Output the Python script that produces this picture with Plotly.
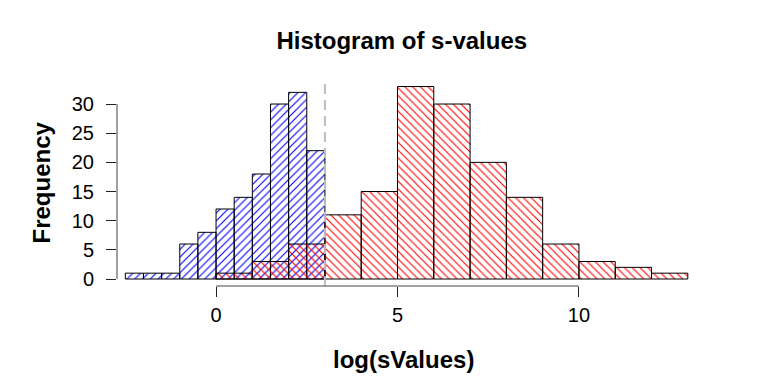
import plotly.graph_objects as go
import numpy as np

# ---- data ----
blue_edges = [-2.5, -2.0, -1.5, -1.0, -0.5, 0.0, 0.5, 1.0, 1.5, 2.0, 2.5, 3.0]
blue_counts = [1, 1, 1, 6, 8, 12, 14, 18, 30, 32, 22]

red_edges = [0, 1, 2, 3, 4, 5, 6, 7, 8, 9, 10, 11, 12, 13]
red_counts = [1, 3, 6, 11, 15, 33, 30, 20, 14, 6, 3, 2, 1]

threshold = 3
x_ticks = [0, 5, 10]
y_ticks = [0, 5, 10, 15, 20, 25, 30]

title_text = "Histogram of s-values"
x_label = "log(sValues)"
y_label = "Frequency"

x_range = [-2.729, 13.06]
y_range = [-1.2, 34.29]


def centers_widths(edges):
    e = np.array(edges, dtype=float)
    return (e[:-1] + e[1:]) / 2, np.diff(e)


def frac(v, rng):
    return (v - rng[0]) / (rng[1] - rng[0])


bx, bw = centers_widths(blue_edges)
rx, rw = centers_widths(red_edges)

fig = go.Figure()
fig.add_trace(go.Bar(
    x=bx, y=blue_counts, width=bw, name="low",
    marker=dict(color="rgba(0,0,0,0)", opacity=1, line=dict(color="black", width=1),
                pattern=dict(shape="/", fgcolor="#0000FF", bgcolor="rgba(0,0,0,0)",
                             fgopacity=1, size=5.5, solidity=0.2)),
    cliponaxis=False, showlegend=False, hoverinfo="skip",
))
fig.add_trace(go.Bar(
    x=rx, y=red_counts, width=rw, name="high",
    marker=dict(color="rgba(0,0,0,0)", opacity=1, line=dict(color="black", width=1),
                pattern=dict(shape="\\", fgcolor="#FF0000", bgcolor="rgba(0,0,0,0)",
                             fgopacity=1, size=5.5, solidity=0.2)),
    cliponaxis=False, showlegend=False, hoverinfo="skip",
))

# threshold line
fig.add_shape(type="line", xref="x", yref="paper", x0=threshold, x1=threshold,
              y0=0, y1=1, line=dict(color="#BEBEBE", width=2, dash="10px,6px"),
              layer="above")
# R-style axis lines spanning first to last tick (paper coords so they are not clipped)
fig.add_shape(type="line", xref="paper", yref="paper",
              x0=frac(x_ticks[0], x_range), x1=frac(x_ticks[-1], x_range),
              y0=0, y1=0, line=dict(color="#444444", width=1))
fig.add_shape(type="line", xref="paper", yref="paper", x0=0, x1=0,
              y0=frac(y_ticks[0], y_range), y1=frac(y_ticks[-1], y_range),
              line=dict(color="#444444", width=1))

fig.add_annotation(text="<b>" + x_label + "</b>", xref="paper", yref="paper",
                   x=0.5, y=0, yshift=-73, showarrow=False, yanchor="middle",
                   font=dict(size=24, color="black", family="Liberation Sans, Arial"))
fig.add_annotation(text="<b>" + y_label + "</b>", xref="paper", yref="paper",
                   x=0, y=0.5, xshift=-76, showarrow=False, textangle=-90,
                   xanchor="center", yanchor="middle",
                   font=dict(size=24, color="black", family="Liberation Sans, Arial"))

fig.update_layout(
    width=768, height=384,
    margin=dict(l=117, r=78, t=79, b=98),
    paper_bgcolor="white", plot_bgcolor="white",
    barmode="overlay",
    font=dict(family="Liberation Sans, Arial", color="black", size=20),
    title=dict(text="<b>" + title_text + "</b>", x=0.497, xref="paper",
               y=1 - 41 / 384, yref="container", yanchor="middle",
               font=dict(size=24, color="black")),
    xaxis=dict(range=x_range, showgrid=False, zeroline=False, showline=False,
               tickmode="array", tickvals=x_ticks, ticks="outside", ticklen=10,
               tickcolor="#222222", tickwidth=1, ticklabelstandoff=1,
               tickfont=dict(size=20, color="black")),
    yaxis=dict(range=y_range, showgrid=False, zeroline=False, showline=False,
               tickmode="array", tickvals=y_ticks, ticks="outside", ticklen=10,
               tickcolor="#222222", tickwidth=1, ticklabelstandoff=8,
               tickfont=dict(size=20, color="black")),
)

fig.write_html("out.html", config={"displayModeBar": False},
               post_script="document.body.style.margin='0';document.body.style.padding='0';")
